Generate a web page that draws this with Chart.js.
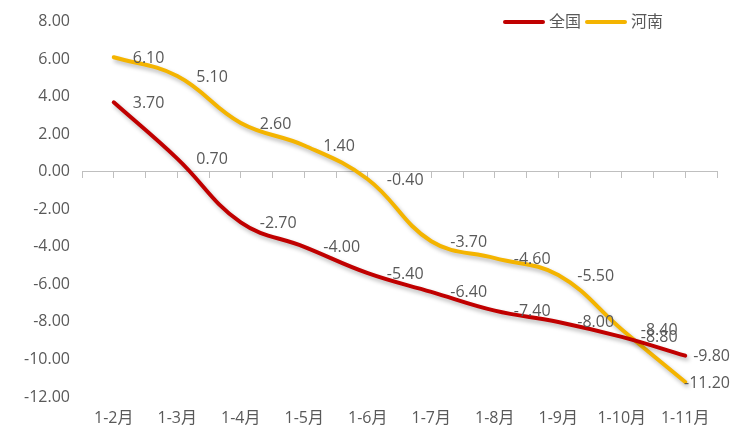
<!DOCTYPE html>
<html>
<head>
<meta charset="utf-8">
<script src="https://cdn.jsdelivr.net/npm/chart.js@4/dist/chart.umd.min.js"></script>
<style>
  html, body { margin: 0; padding: 0; background: #fff; }
  #wrap { width: 746px; height: 435px; }
</style>
</head>
<body>
<div id="wrap"><canvas id="chartCanvas"></canvas></div>
<script>
const months = ['1-2月', '1-3月', '1-4月', '1-5月', '1-6月', '1-7月', '1-8月', '1-9月', '1-10月', '1-11月'];
const quanguo = [3.70, 0.70, -2.70, -4.00, -5.40, -6.40, -7.40, -8.00, -8.80, -9.80];
const henan = [6.10, 5.10, 2.60, 1.40, -0.40, -3.70, -4.60, -5.50, -8.40, -11.20];
const seriesNames = ['全国', '河南'];
const seriesColors = ['#C00000', '#F4B400'];

const FONT = '"Open Sans", "Noto Sans CJK SC", sans-serif';
const TEXT = '#595959';

// soft shadow under the lines, like the office chart
const shadowPlugin = {
  id: 'shadow',
  beforeDatasetsDraw(chart) {
    const ctx = chart.ctx;
    ctx.save();
    ctx.shadowColor = 'rgba(0,0,0,0.28)';
    ctx.shadowBlur = 4;
    ctx.shadowOffsetX = 2;
    ctx.shadowOffsetY = 3;
  },
  afterDatasetsDraw(chart) {
    chart.ctx.restore();
  }
};

// value labels to the right of every point
const valueLabels = {
  id: 'valueLabels',
  afterDatasetsDraw(chart) {
    const ctx = chart.ctx;
    ctx.save();
    ctx.font = '16px ' + FONT;
    ctx.fillStyle = TEXT;
    ctx.textBaseline = 'middle';
    ctx.textAlign = 'left';
    chart.data.datasets.forEach((ds, i) => {
      chart.getDatasetMeta(i).data.forEach((pt, j) => {
        const txt = ds.data[j].toFixed(2);
        const w = ctx.measureText(txt).width;
        const x = Math.min(pt.x + 19, 730 - w);
        ctx.fillText(txt, x, pt.y + 1);
      });
    });
    ctx.restore();
  }
};

// legend drawn in the top right corner, over the plot
const cornerLegend = {
  id: 'cornerLegend',
  afterDraw(chart) {
    const ctx = chart.ctx;
    ctx.save();
    ctx.font = '16px ' + FONT;
    ctx.textBaseline = 'middle';
    let x = 503;
    const y = 22;
    seriesNames.forEach((name, i) => {
      ctx.strokeStyle = seriesColors[i];
      ctx.lineWidth = 4;
      ctx.lineCap = 'round';
      ctx.beginPath();
      ctx.moveTo(x + 2, y);
      ctx.lineTo(x + 40, y);
      ctx.stroke();
      ctx.fillStyle = TEXT;
      ctx.fillText(name, x + 46, y);
      x += 46 + ctx.measureText(name).width + 4;
    });
    ctx.restore();
  }
};

const ctx = document.getElementById('chartCanvas').getContext('2d');

new Chart(ctx, {
  type: 'line',
  data: {
    labels: months,
    datasets: [
      { label: seriesNames[0], data: quanguo, borderColor: seriesColors[0], backgroundColor: seriesColors[0] },
      { label: seriesNames[1], data: henan, borderColor: seriesColors[1], backgroundColor: seriesColors[1] }
    ]
  },
  options: {
    responsive: true,
    maintainAspectRatio: false,
    animation: false,
    layout: { padding: { top: 19, right: 29, bottom: 0, left: 0 } },
    elements: {
      line: { borderWidth: 4, tension: 0.4, borderCapStyle: 'round', borderJoinStyle: 'round' },
      point: { radius: 0, hoverRadius: 0 }
    },
    scales: {
      x: {
        offset: true,
        grid: { display: false, drawTicks: false },
        border: { display: false },
        ticks: { color: TEXT, font: { size: 16, family: FONT }, padding: 12, maxRotation: 0, autoSkip: false },
        afterFit: (s) => { s.height = 38; }
      },
      // axis line crossing at zero, with tick marks between categories
      xZero: {
        type: 'category',
        position: { y: 0 },
        offset: true,
        ticks: { display: false },
        grid: { offset: true, drawOnChartArea: false, drawTicks: true, tickLength: 6, color: '#bfbfbf' },
        border: { display: true, color: '#bfbfbf', width: 1 }
      },
      // tick marks at the categories
      xZeroMid: {
        type: 'category',
        position: { y: 0 },
        offset: true,
        ticks: { display: false },
        grid: { offset: false, drawOnChartArea: false, drawTicks: true, tickLength: 6, color: '#bfbfbf' },
        border: { display: false }
      },
      y: {
        min: -12,
        max: 8,
        ticks: {
          stepSize: 2,
          color: TEXT,
          font: { size: 16, family: FONT },
          padding: 12,
          callback: (v) => Number(v).toFixed(2)
        },
        grid: { display: false, drawTicks: false },
        border: { display: false },
        afterFit: (s) => { s.width = 82; }
      }
    },
    plugins: {
      legend: { display: false },
      tooltip: { enabled: false }
    }
  },
  plugins: [shadowPlugin, valueLabels, cornerLegend]
});
</script>
</body>
</html>
